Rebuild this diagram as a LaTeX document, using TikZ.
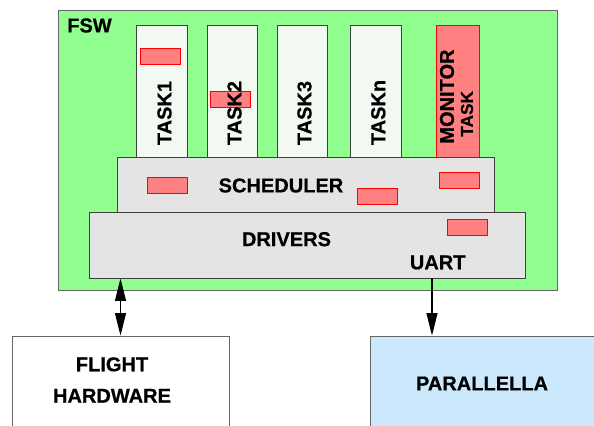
\documentclass[tikz,border=0pt]{standalone}
\usepackage{fontspec}
\setmainfont{Liberation Sans}
\newfontfamily\heavyfont{Liberation Sans Bold}[FakeBold=0.6]
\usetikzlibrary{arrows.meta, calc}
\definecolor{fswgreen}{RGB}{144,255,144}
\definecolor{taskwhite}{RGB}{242,248,242}
\definecolor{layergray}{RGB}{228,228,228}
\definecolor{flagred}{RGB}{255,128,128}
\definecolor{parablue}{RGB}{204,232,252}

\begin{document}
\begin{tikzpicture}[
  >={Triangle[length=0.45cm,width=0.22cm]},
  box/.style={rectangle, draw=black!75, line width=0.5pt, inner sep=0pt},
  fswbox/.style={box, draw=black!60, fill=fswgreen},
  taskbox/.style={box, fill=taskwhite, minimum height=2.64cm},
  layer/.style={box, fill=layergray},
  hwbox/.style={box, draw=black!60, minimum height=1.9cm},
  flag/.style={rectangle, draw=red, fill=flagred, line width=0.5pt,
    minimum width=0.8cm, minimum height=0.32cm, inner sep=0pt},
  txt/.style={inner sep=0pt, font=\fontsize{11.4}{12}\selectfont\heavyfont},
  vtxt/.style={txt, rotate=90, anchor=west},
  link/.style={line width=0.7pt}
]
  \useasboundingbox (0,0) rectangle (11.88,8.52);
  \clip (0,0) rectangle (11.88,8.52);

  % flight software frame
  \node[fswbox, minimum width=9.97cm, minimum height=5.6cm] (fsw) at (6.157,5.52) {};
  \node[txt] (fswlbl) at (1.79,8.01) {FSW};

  % tasks
  \node[taskbox, minimum width=1.02cm] (task1) at (3.23,6.70) {};
  \node[taskbox, minimum width=1.0cm] (task2) at (4.64,6.70) {};
  \node[taskbox, minimum width=1.0cm] (task3) at (6.04,6.70) {};
  \node[taskbox, minimum width=1.02cm] (taskn) at (7.51,6.70) {};
  \node[taskbox, minimum width=0.86cm, draw=red, fill=flagred] (monitor) at (9.15,6.70) {};

  % layers
  \node[layer, minimum width=7.54cm, minimum height=1.1cm] (sched) at (6.11,4.83) {};
  \node[layer, minimum width=8.73cm, minimum height=1.32cm] (drivers) at (6.145,3.62) {};

  % outside world
  \node[hwbox, fill=white, minimum width=4.34cm] (fhw) at (2.41,0.85) {};
  \node[hwbox, fill=parablue, minimum width=4.6cm] (para) at (9.7,0.85) {};

  % monitor probes
  \node[flag] (probe1) at (3.2,7.4) {};
  \node[flag] (probe2) at (4.6,6.54) {};
  \node[flag] (probe3) at (3.35,4.82) {};
  \node[flag] (probe4) at (7.55,4.6) {};
  \node[flag] (probe5) at (9.18,4.91) {};
  \node[flag] (probe6) at (9.34,3.98) {};

  % labels
  \node[vtxt] (task1lbl) at (3.29,5.61) {TASK1};
  \node[vtxt] (task2lbl) at (4.69,5.61) {TASK2};
  \node[vtxt] (task3lbl) at (6.09,5.61) {TASK3};
  \node[vtxt] (tasknlbl) at (7.566,5.61) {TASKn};
  \node[vtxt, align=left, font=\fontsize{11.4}{10.8}\selectfont\heavyfont] (monlbl) at (9.13,5.64)
    {MONITOR\\{\fontsize{9.8}{10.8}\selectfont\hspace{0.14cm}TASK}};
  \node[txt] (schedlbl) at (5.62,4.81) {SCHEDULER};
  \node[txt] (drvlbl) at (5.73,3.736) {DRIVERS};
  \node[txt] (uart) at (8.754,3.27) {UART};
  \node[txt, align=center, font=\fontsize{11.4}{17.9}\selectfont\heavyfont] (fhwlbl) at (2.24,0.92)
    {FLIGHT\\HARDWARE};
  \node[txt] (paralbl) at (9.64,0.85) {PARALLELLA};

  % connections
  \coordinate (uarttap) at (8.64,2.96);
  \draw[link, <->] (fhw.north |- drivers.south) -- (fhw.north);
  \draw[link, ->] (uarttap) -- (uarttap |- para.north);
\end{tikzpicture}
\end{document}
